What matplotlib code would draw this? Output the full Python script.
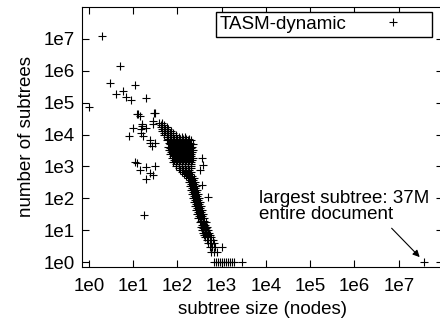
import matplotlib
matplotlib.use("Agg")
import matplotlib.pyplot as plt
from matplotlib.ticker import NullLocator

plt.rcParams['font.family'] = ['Liberation Sans', 'DejaVu Sans']
plt.rcParams['font.size'] = 13.5

# small subtrees, scattered high up on the left
small_sizes = [1, 2, 3, 4, 5, 6, 7, 9, 11, 8, 10, 12, 13, 14, 15, 16, 16, 20,
               26, 28, 28, 29, 31, 24, 20, 24, 31, 15, 17]
small_counts = [75000, 12000000, 400000, 180000, 1400000, 240000, 155000,
                120000, 360000, 9300, 16600, 45000, 45000, 39000, 15000, 22000,
                19000, 140000, 4500, 22000, 27500, 49000, 46000, 5600, 16600,
                6500, 5600, 11500, 9000]

# the little group below the main cloud
low_sizes = [11, 12, 14, 20, 31, 28, 20, 18, 24]
low_counts = [1330, 1250, 750, 930, 1000, 520, 390, 29, 600]

# dense cloud
core_sizes = [39, 46,
              42, 49, 58,
              46, 53, 62, 73,
              49, 58, 67, 79, 92,
              62, 73, 85, 100, 116, 136, 159, 186,
              64, 75, 87, 102, 120, 139, 163, 191,
              62, 73, 85, 100, 116, 136, 159, 186, 217,
              64, 75, 87, 102, 120, 139, 163, 191, 223,
              69, 81, 94, 110, 129, 151, 176, 206,
              75, 87, 102, 120, 139, 163, 191, 223,
              81, 94, 110, 129, 151, 176, 206,
              92, 108, 126, 147, 172, 200,
              116, 136, 159, 186,
              139, 163, 191]
core_counts = [23700, 23700,
               17800, 17800, 17800,
               13300, 13300, 13300, 13300,
               10000, 10000, 10000, 10000, 10000,
               7500, 7500, 7500, 7500, 7500, 7500, 7500, 7500,
               5600, 5600, 5600, 5600, 5600, 5600, 5600, 5600,
               4200, 4200, 4200, 4200, 4200, 4200, 4200, 4200, 4200,
               3160, 3160, 3160, 3160, 3160, 3160, 3160, 3160, 3160,
               2370, 2370, 2370, 2370, 2370, 2370, 2370, 2370,
               1780, 1780, 1780, 1780, 1780, 1780, 1780, 1780,
               1330, 1330, 1330, 1330, 1330, 1330, 1330,
               1000, 1000, 1000, 1000, 1000, 1000,
               750, 750, 750, 750,
               560, 560, 560]

core_mid_sizes = [42, 49,
                  46, 53, 62,
                  49, 58, 67, 79,
                  58, 67, 79, 92, 108, 126, 147,
                  58, 67, 79, 92, 108, 126, 147, 172, 200,
                  69, 81, 94, 110, 129, 151, 176, 206,
                  67, 79, 92, 108, 126, 147, 172, 200,
                  73, 85, 100, 116, 136, 159, 186, 217,
                  81, 94, 110, 129, 151, 176, 206,
                  85, 100, 116, 136, 159, 186, 217,
                  94, 110, 129, 151, 176, 206,
                  110, 129, 151, 176, 206,
                  129, 151, 176, 206,
                  159, 186, 217]
core_mid_counts = [20500, 20500,
                   15400, 15400, 15400,
                   11500, 11500, 11500, 11500,
                   8660, 8660, 8660, 8660, 8660, 8660, 8660,
                   6500, 6500, 6500, 6500, 6500, 6500, 6500, 6500, 6500,
                   4870, 4870, 4870, 4870, 4870, 4870, 4870, 4870,
                   3650, 3650, 3650, 3650, 3650, 3650, 3650, 3650,
                   2740, 2740, 2740, 2740, 2740, 2740, 2740, 2740,
                   2050, 2050, 2050, 2050, 2050, 2050, 2050,
                   1540, 1540, 1540, 1540, 1540, 1540, 1540,
                   1150, 1150, 1150, 1150, 1150, 1150,
                   866, 866, 866, 866, 866,
                   650, 650, 650, 650,
                   487, 487, 487]

# steep band going down to single occurrences
band_sizes = [172, 200, 235,
              181, 211, 247,
              196, 229, 267,
              206, 241, 281,
              217, 254, 296,
              229, 267, 312,
              241, 281, 329,
              254, 296, 346,
              267, 312, 365,
              281, 329, 384,
              296, 346, 405,
              320, 374, 437,
              338, 395, 461,
              365, 426, 499,
              384, 449, 525,
              405, 473, 553,
              426, 499, 583,
              461, 539, 630,
              485, 568, 663,
              539, 614, 698,
              568, 663, 775]
band_counts = [420, 420, 420,
               316, 316, 316,
               237, 237, 237,
               178, 178, 178,
               133, 133, 133,
               100, 100, 100,
               75, 75, 75,
               56, 56, 56,
               42, 42, 42,
               32, 32, 32,
               24, 24, 24,
               18, 18, 18,
               13, 13, 13,
               10, 10, 10,
               8, 8, 8,
               7, 7, 7,
               6, 6, 6,
               5, 5, 5,
               4, 4, 4,
               3, 3, 3,
               2, 2, 2]

band_mid_sizes = [191, 222, 206, 241, 217, 254, 229, 267, 241, 281, 254, 296,
                  267, 312, 281, 329, 296, 346, 312, 365, 338, 395, 355, 415,
                  384, 449]
band_mid_counts = [365, 365, 274, 274, 205, 205, 154, 154, 115, 115, 87, 87,
                   65, 65, 49, 49, 36, 36, 27, 27, 20, 20, 15, 15, 12, 12]

# points that stick out on the right of the cloud
edge_sizes = [222, 355, 374, 320, 355, 485, 1005]
edge_counts = [5000, 1780, 1070, 750, 255, 108, 3]

# subtrees seen only once
single_sizes = [663, 736, 816, 906, 1005, 1110, 1240, 1370, 1530, 1700, 1870,
                2830, 37000000]
single_counts = [1, 1, 1, 1, 1, 1, 1, 1, 1, 1, 1, 1, 1]

sizes = (small_sizes + low_sizes + core_sizes + core_mid_sizes + band_sizes
         + band_mid_sizes + edge_sizes + single_sizes)
counts = (small_counts + low_counts + core_counts + core_mid_counts + band_counts
          + band_mid_counts + edge_counts + single_counts)

decades = [1e0, 1e1, 1e2, 1e3, 1e4, 1e5, 1e6, 1e7]
decade_labels = ['1e0', '1e1', '1e2', '1e3', '1e4', '1e5', '1e6', '1e7']

fig = plt.figure(figsize=(4.4, 3.25), dpi=100)
ax = fig.add_axes([0.1864, 0.1785, 0.8205, 0.8])

ax.plot(sizes, counts, linestyle='none', marker='+', ms=6, mew=0.8,
        color='black', label='TASM-dynamic')

ax.set_xscale('log')
ax.set_yscale('log')
ax.set_xlim(0.7, 1e8)
ax.set_ylim(0.7, 1e8)
ax.set_xticks(decades, decade_labels)
ax.set_yticks(decades, decade_labels)
ax.xaxis.set_minor_locator(NullLocator())
ax.yaxis.set_minor_locator(NullLocator())
ax.tick_params(direction='in', length=5, width=0.8, top=True, right=True)
ax.tick_params(axis='x', pad=8)
ax.tick_params(axis='y', pad=5)
for s in ax.spines.values():
    s.set_linewidth(0.8)

ax.set_xlabel('subtree size (nodes)', labelpad=4.5)
ax.set_ylabel('number of subtrees', labelpad=6.5)

ax.text(0.49, 0.296, 'largest subtree: 37M\nentire document',
        transform=ax.transAxes, ha='left', va='top', linespacing=0.95)
ax.annotate('', xy=(2.97e7, 1.43), xytext=(6.9e6, 11.5),
            arrowprops=dict(arrowstyle='-|>', color='black', lw=0.8,
                            mutation_scale=10, shrinkA=0, shrinkB=0))

ax.legend(loc='upper right', bbox_to_anchor=(0.9695, 0.981), borderaxespad=0,
          markerfirst=False, fancybox=False, edgecolor='black', framealpha=1,
          borderpad=0.2, handlelength=3.75, handletextpad=0.6)

fig.savefig('out.png', dpi=100)
